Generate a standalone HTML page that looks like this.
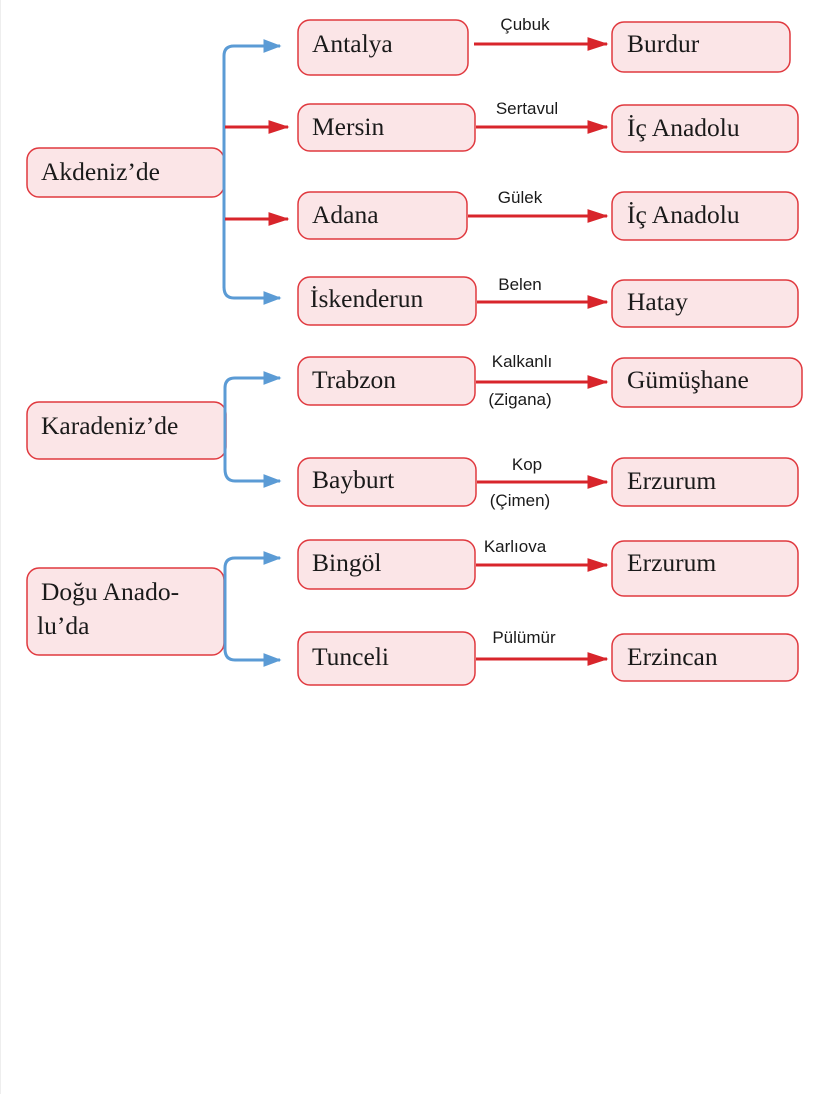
<!DOCTYPE html>
<html><head><meta charset="utf-8"><style>
html,body{margin:0;padding:0;background:#fff;}
svg{display:block}
.b{fill:#fbe5e7;stroke:#e0393f;stroke-width:1.5}
.t{font-family:"Liberation Serif",serif;font-size:25.5px;fill:#1a1a1a}
.l{font-family:"Liberation Sans",sans-serif;font-size:17px;fill:#1a1a1a;text-anchor:middle}
.r{stroke:#d8252b;stroke-width:3;fill:none}
.bl{stroke:#5b9bd5;stroke-width:3;fill:none}
</style></head><body>
<svg width="826" height="1094" viewBox="0 0 826 1094">
<defs>
<marker id="ra" markerWidth="7" markerHeight="4.6" refX="6.5" refY="2.3" orient="auto" markerUnits="strokeWidth"><path d="M0,0 L7,2.3 L0,4.6 z" fill="#d8252b"/></marker>
<marker id="ba" markerWidth="6" markerHeight="4.6" refX="5.5" refY="2.3" orient="auto" markerUnits="strokeWidth"><path d="M0,0 L6,2.3 L0,4.6 z" fill="#5b9bd5"/></marker>
</defs>
<line x1="0.5" y1="0" x2="0.5" y2="1094" stroke="#eee"/>
<!-- left boxes -->
<rect class="b" x="27" y="148" width="197" height="49" rx="12"/>
<text class="t" x="41" y="180">Akdeniz’de</text>
<rect class="b" x="27" y="402" width="199" height="57" rx="12"/>
<text class="t" x="41" y="434">Karadeniz’de</text>
<rect class="b" x="27" y="568" width="197" height="87" rx="12"/>
<text class="t" x="41" y="600">Doğu Anado-</text>
<text class="t" x="37" y="634">lu’da</text>
<!-- blue brackets -->
<path class="bl" d="M224,288 L224,56 Q224,46 234,46 L280,46" marker-end="url(#ba)"/>
<path class="bl" d="M224,287 Q224,298 234,298 L280,298" marker-end="url(#ba)"/>
<path class="r" d="M225,127 L288,127" marker-end="url(#ra)"/>
<path class="r" d="M225,219 L288,219" marker-end="url(#ra)"/>
<path class="bl" d="M225,470 L225,388 Q225,378 235,378 L280,378" marker-end="url(#ba)"/>
<path class="bl" d="M225,469 Q225,481 235,481 L280,481" marker-end="url(#ba)"/>
<path class="bl" d="M225,650 L225,568 Q225,558 235,558 L280,558" marker-end="url(#ba)"/>
<path class="bl" d="M225,649 Q225,660 235,660 L280,660" marker-end="url(#ba)"/>
<!-- middle boxes -->
<rect class="b" x="298" y="20" width="170" height="55" rx="12"/><text class="t" x="312" y="52">Antalya</text>
<rect class="b" x="298" y="104" width="177" height="47" rx="12"/><text class="t" x="312" y="135">Mersin</text>
<rect class="b" x="298" y="192" width="169" height="47" rx="12"/><text class="t" x="312" y="223">Adana</text>
<rect class="b" x="298" y="277" width="178" height="48" rx="12"/><text class="t" x="310" y="307">İskenderun</text>
<rect class="b" x="298" y="357" width="177" height="48" rx="12"/><text class="t" x="312" y="388">Trabzon</text>
<rect class="b" x="298" y="458" width="178" height="48" rx="12"/><text class="t" x="312" y="488">Bayburt</text>
<rect class="b" x="298" y="540" width="177" height="49" rx="12"/><text class="t" x="312" y="571">Bingöl</text>
<rect class="b" x="298" y="632" width="177" height="53" rx="12"/><text class="t" x="312" y="665">Tunceli</text>
<!-- right boxes -->
<rect class="b" x="612" y="22" width="178" height="50" rx="12"/><text class="t" x="627" y="52">Burdur</text>
<rect class="b" x="612" y="105" width="186" height="47" rx="12"/><text class="t" x="627" y="136">İç Anadolu</text>
<rect class="b" x="612" y="192" width="186" height="48" rx="12"/><text class="t" x="627" y="223">İç Anadolu</text>
<rect class="b" x="612" y="280" width="186" height="47" rx="12"/><text class="t" x="627" y="310">Hatay</text>
<rect class="b" x="612" y="358" width="190" height="49" rx="12"/><text class="t" x="627" y="388">Gümüşhane</text>
<rect class="b" x="612" y="458" width="186" height="48" rx="12"/><text class="t" x="627" y="489">Erzurum</text>
<rect class="b" x="612" y="541" width="186" height="55" rx="12"/><text class="t" x="627" y="571">Erzurum</text>
<rect class="b" x="612" y="634" width="186" height="47" rx="12"/><text class="t" x="627" y="665">Erzincan</text>
<!-- red arrows -->
<path class="r" d="M474,44 L607,44" marker-end="url(#ra)"/>
<path class="r" d="M476,127 L607,127" marker-end="url(#ra)"/>
<path class="r" d="M468,216 L607,216" marker-end="url(#ra)"/>
<path class="r" d="M477,302 L607,302" marker-end="url(#ra)"/>
<path class="r" d="M476,382 L607,382" marker-end="url(#ra)"/>
<path class="r" d="M477,482 L607,482" marker-end="url(#ra)"/>
<path class="r" d="M476,565 L607,565" marker-end="url(#ra)"/>
<path class="r" d="M476,659 L607,659" marker-end="url(#ra)"/>
<!-- labels -->
<text class="l" x="525" y="30">Çubuk</text>
<text class="l" x="527" y="114">Sertavul</text>
<text class="l" x="520" y="203">Gülek</text>
<text class="l" x="520" y="290">Belen</text>
<text class="l" x="522" y="367">Kalkanlı</text>
<text class="l" x="520" y="405">(Zigana)</text>
<text class="l" x="527" y="470">Kop</text>
<text class="l" x="520" y="506">(Çimen)</text>
<text class="l" x="515" y="552">Karlıova</text>
<text class="l" x="524" y="643">Pülümür</text>
</svg>
</body></html>
